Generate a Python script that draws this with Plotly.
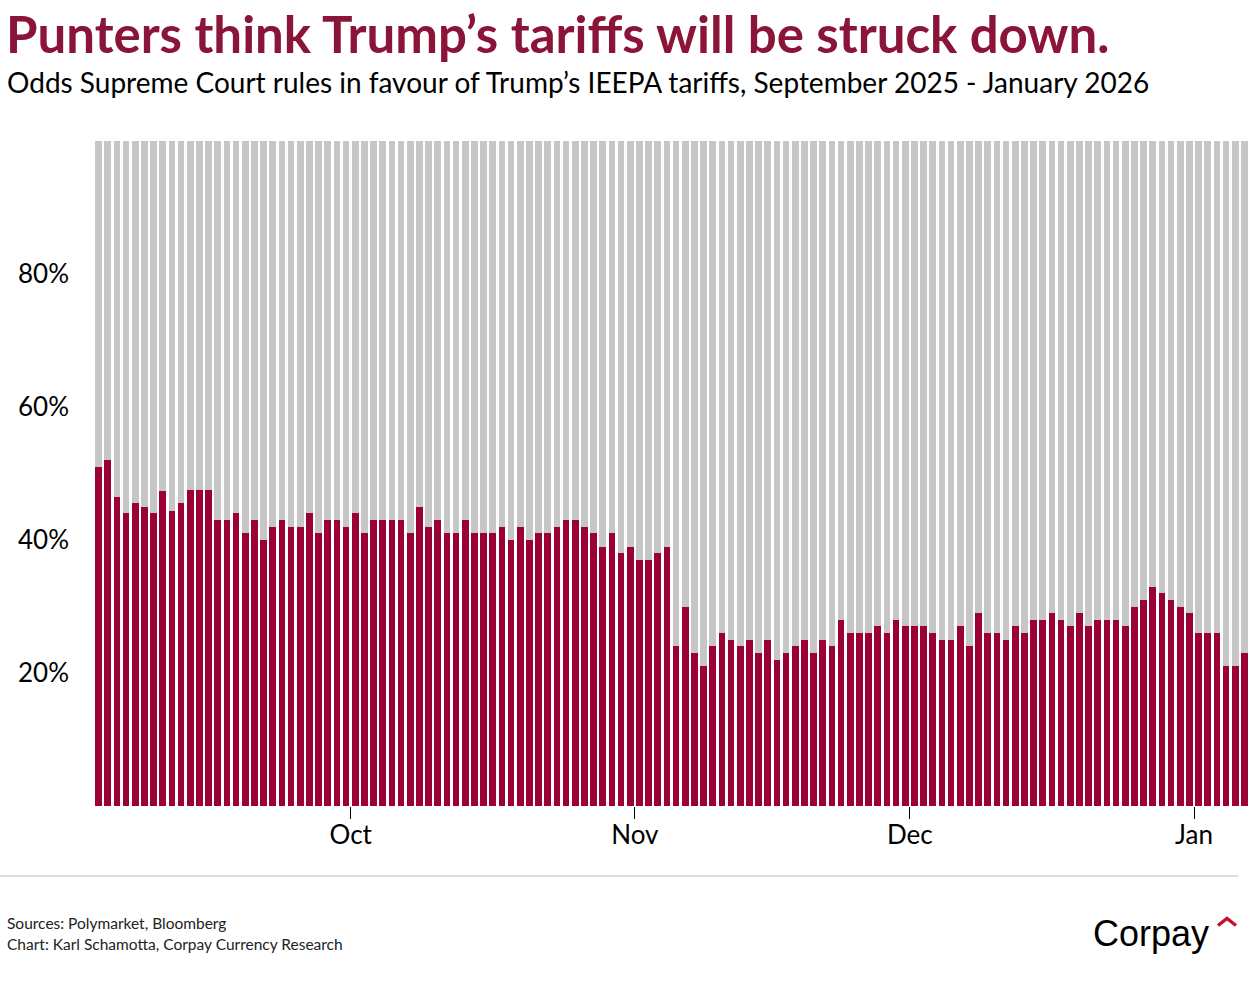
import pandas as pd
import plotly.graph_objects as go

# ---- data ----
start_date = "2025-09-03"
odds = [
    51, 52, 46.4, 44, 45.5, 45, 44, 47.4, 44.4, 45.5,
    47.5, 47.5, 47.5, 43, 43, 44, 41, 43, 40, 42,
    43, 42, 42, 44, 41, 43, 43, 42, 44, 41,
    43, 43, 43, 43, 41, 45, 42, 43, 41, 41,
    43, 41, 41, 41, 42, 40, 42, 40, 41, 41,
    42, 43, 43, 42, 41, 39, 41, 38, 39, 37,
    37, 38, 39, 24, 30, 23, 21, 24, 26, 25,
    24, 25, 23, 25, 22, 23, 24, 25, 23, 25,
    24, 28, 26, 26, 26, 27, 26, 28, 27, 27,
    27, 26, 25, 25, 27, 24, 29, 26, 26, 25,
    27, 26, 28, 28, 29, 28, 27, 29, 27, 28,
    28, 28, 27, 30, 31, 33, 32, 31, 30, 29,
    26, 26, 26, 21, 21, 23,
]
dates = pd.date_range(start_date, periods=len(odds), freq="D")
rest = [100 - v for v in odds]

y_tick_vals = [20, 40, 60, 80]
y_tick_text = ["20%", "40%", "60%", "80%"]
x_tick_vals = ["2025-10-01", "2025-11-01", "2025-12-01", "2026-01-01"]
x_tick_text = ["Oct", "Nov", "Dec", "Jan"]

title_text = "Punters think Trump\u2019s tariffs will be struck down."
subtitle_text = "Odds Supreme Court rules in favour of Trump\u2019s IEEPA tariffs, September 2025 - January 2026"
source_text = "Sources: Polymarket, Bloomberg"
credit_text = "Chart: Karl Schamotta, Corpay Currency Research"

# ---- layout geometry (page pixel coordinates; body margin removed) ----
FIG_W, FIG_H = 1253, 1000
L, R, T, B = 94, 1249, 141, 806


def px(x):
    return (x - L) / (R - L)


def py(y):
    return (B - y) / (B - T)


RED = "#9B0036"
TITLE_RED = "#8A1538"
GREY = "#C6C6C6"
FONT = "Lato, 'Open Sans', sans-serif"

fig = go.Figure()
fig.add_trace(go.Bar(
    x=dates, y=odds, marker=dict(color=RED, line=dict(width=0)),
    xperiod=86400000, xperiodalignment="middle", hoverinfo="x+y",
))
fig.add_trace(go.Bar(
    x=dates, y=rest, marker=dict(color=GREY, line=dict(width=0)),
    xperiod=86400000, xperiodalignment="middle", hoverinfo="skip",
))

fig.update_layout(
    width=FIG_W, height=FIG_H,
    margin=dict(l=L, r=FIG_W - R, t=T, b=FIG_H - B, autoexpand=False),
    barmode="stack", bargap=0.27,
    plot_bgcolor="white", paper_bgcolor="white",
    showlegend=False,
    font=dict(family=FONT, color="black"),
    xaxis=dict(
        type="date",
        range=[dates[0], dates[-1] + pd.Timedelta(days=1)],
        tickvals=x_tick_vals, ticktext=x_tick_text,
        ticks="outside", ticklen=12, tickwidth=1.2, tickcolor="black",
        tickfont=dict(size=26, family=FONT, color="black"),
        ticklabelstandoff=-6,
        showgrid=False, zeroline=False, showline=False,
    ),
    yaxis=dict(
        range=[0, 100],
        tickvals=y_tick_vals, ticktext=y_tick_text,
        tickfont=dict(size=26, family=FONT, color="black"),
        ticklabelstandoff=24,
        showgrid=True, gridcolor="rgba(255,255,255,0.35)", gridwidth=1,
        layer="above traces",
        zeroline=False, showline=False,
    ),
)

annotations = [
    dict(text="<b>" + title_text + "</b>", x=px(4), y=py(0.5), xanchor="left", yanchor="top",
         font=dict(size=51, color=TITLE_RED, family=FONT)),
    dict(text=subtitle_text, x=px(5), y=py(82), xanchor="left", yanchor="middle",
         font=dict(size=28, color="black", family=FONT)),
    dict(text=source_text, x=px(5), y=py(923), xanchor="left", yanchor="middle",
         font=dict(size=15.5, color="#222222", family=FONT)),
    dict(text=credit_text, x=px(5), y=py(944), xanchor="left", yanchor="middle",
         font=dict(size=15.5, color="#222222", family=FONT)),
    dict(text="Corpay", x=px(1211), y=py(933), xanchor="right", yanchor="middle",
         font=dict(size=36, color="black", family="'Liberation Sans', Arial, sans-serif")),
]
for a in annotations:
    a.update(xref="paper", yref="paper", showarrow=False)
fig.update_layout(annotations=annotations)

# separator line
fig.add_shape(type="line", xref="paper", yref="paper",
              x0=px(0), x1=px(1238), y0=py(876), y1=py(876),
              line=dict(color="#D0D0D0", width=1.5))
# logo caret
fig.add_shape(type="path", xref="paper", yref="paper",
              path=f"M {px(1218)},{py(925.5)} L {px(1227)},{py(918.5)} L {px(1236)},{py(925.5)}",
              line=dict(color="#C8102E", width=3.4))

fig.write_html("out.html", config={"displayModeBar": False},
               post_script="document.body.style.margin='0';")
